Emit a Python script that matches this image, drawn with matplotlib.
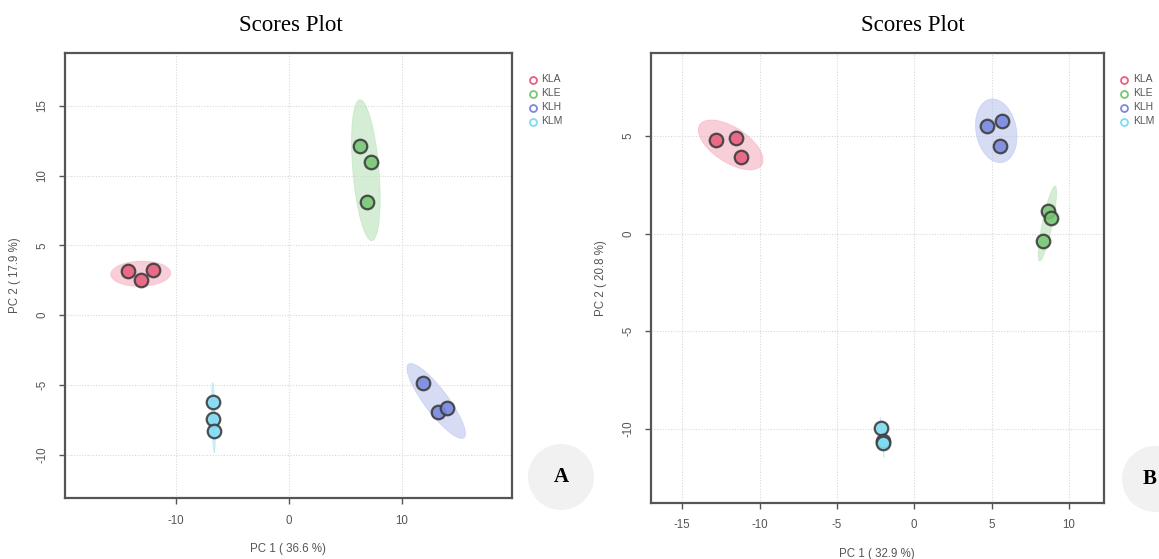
import numpy as np
import matplotlib
matplotlib.use("Agg")
import matplotlib.pyplot as plt
from matplotlib.patches import Ellipse

# Groups and colours
groups = ["KLA", "KLE", "KLH", "KLM"]
point_colors = ["#e9607f", "#78c777", "#7a89df", "#7fdaf2"]
shade_colors = ["#f4a9bb", "#b4dfb3", "#b7c0ee", "#a6e4f2"]

# Panel A scores (PC1, PC2) per group
a_pc1 = {
    "KLA": [-14.27, -13.1, -12.1],
    "KLE": [6.27, 7.3, 6.9],
    "KLH": [11.93, 13.23, 14.03],
    "KLM": [-6.7, -6.77, -6.63],
}
a_pc2 = {
    "KLA": [3.15, 2.55, 3.22],
    "KLE": [12.12, 10.95, 8.11],
    "KLH": [-4.89, -6.92, -6.63],
    "KLM": [-6.25, -7.45, -8.3],
}

# Panel B scores (PC1, PC2) per group
b_pc1 = {
    "KLA": [-12.84, -11.55, -11.22],
    "KLE": [8.66, 8.83, 8.35],
    "KLH": [4.68, 5.70, 5.54],
    "KLM": [-2.12, -2.05, -2.03],
}
b_pc2 = {
    "KLA": [4.80, 4.88, 3.94],
    "KLE": [1.14, 0.78, -0.36],
    "KLH": [5.51, 5.77, 4.51],
    "KLM": [-9.93, -10.61, -10.70],
}

a_xticks = [-10, 0, 10]
a_yticks = [-10, -5, 0, 5, 10, 15]
b_xticks = [-15, -10, -5, 0, 5, 10]
b_yticks = [-10, -5, 0, 5]

a_xlabel = "PC 1 ( 36.6 %)"
a_ylabel = "PC 2 ( 17.9 %)"
b_xlabel = "PC 1 ( 32.9 %)"
b_ylabel = "PC 2 ( 20.8 %)"
title = "Scores Plot"

W, H = 1159, 559
fig = plt.figure(figsize=(W / 100, H / 100), dpi=100)
fig.patch.set_facecolor("white")

SANS = "Liberation Sans"
SERIF = "Liberation Serif"
GRAY = "#555555"
CHI2_95 = 5.991  # chi-square quantile, 2 dof
FS = 8.3


def conf_ellipse(ax, x, y, color):
    """95% confidence ellipse of a group's scores."""
    x = np.asarray(x, float)
    y = np.asarray(y, float)
    cov = np.cov(x, y)
    vals, vecs = np.linalg.eigh(cov)
    order = vals.argsort()[::-1]
    vals, vecs = vals[order], vecs[:, order]
    angle = np.degrees(np.arctan2(vecs[1, 0], vecs[0, 0]))
    w, h = 2 * np.sqrt(CHI2_95 * np.maximum(vals, 0))
    e = Ellipse((x.mean(), y.mean()), w, h, angle=angle,
                facecolor=color, edgecolor=color, lw=0.6, alpha=0.55, zorder=1)
    ax.add_patch(e)


def draw_panel(rect, pc1, pc2, xlim, ylim, xticks, yticks, xlabel, ylabel,
               legend_x, letter, tag_xy, letter_x, title_x):
    ax = fig.add_axes(rect)
    ax.set_xlim(*xlim)
    ax.set_ylim(*ylim)
    ax.set_xticks(xticks)
    ax.set_yticks(yticks)
    ax.set_xticklabels([str(t) for t in xticks], fontsize=FS, color=GRAY,
                       family=SANS)
    ax.set_yticklabels([str(t) for t in yticks], fontsize=FS, color=GRAY,
                       family=SANS, rotation=90, va="center")
    ax.tick_params(direction="out", length=4, width=1, color=GRAY, pad=8)
    for s in ax.spines.values():
        s.set_color(GRAY)
        s.set_linewidth(1.6)
    ax.grid(True, linestyle=(0, (1, 1.5)), color="#d8d8d8", lw=0.8)
    ax.set_axisbelow(True)
    ax.set_xlabel(xlabel, fontsize=FS, color=GRAY, family=SANS, labelpad=12)
    ax.set_ylabel(ylabel, fontsize=FS, color=GRAY, family=SANS, labelpad=11)

    for g, sc in zip(groups, shade_colors):
        conf_ellipse(ax, pc1[g], pc2[g], sc)
    for g, pc in zip(groups, point_colors):
        ax.scatter(pc1[g], pc2[g], s=95, facecolor=pc, edgecolor="#3d3d3d",
                   linewidth=1.6, alpha=0.9, zorder=3)

    # legend: open circles with labels, right of the plot box
    for i, (g, pc) in enumerate(zip(groups, point_colors)):
        ypx = 79.5 + 14 * i
        fig.lines.append(plt.Line2D([legend_x / W], [1 - ypx / H],
                                    transform=fig.transFigure, marker="o",
                                    markersize=5, markerfacecolor="none",
                                    markeredgecolor=pc, markeredgewidth=1.3,
                                    linestyle="none"))
        fig.text((legend_x + 9) / W, 1 - ypx / H, g, fontsize=7.5,
                 color=GRAY, family=SANS, va="center", ha="left")

    # panel tag: grey disc with bold letter
    cx, cy = tag_xy
    fig.patches.append(Ellipse((cx / W, 1 - cy / H), 66 / W, 66 / H,
                               transform=fig.transFigure, facecolor="#f1f1f1",
                               edgecolor="none", zorder=0))
    fig.text(letter_x / W, 1 - cy / H, letter, fontsize=15, fontweight="bold",
             family=SERIF, ha="center", va="center", color="black")

    fig.text(title_x / W, 1 - 31 / H, title, fontsize=16.5, family=SERIF,
             ha="center", va="baseline", color="black")
    return ax


ax_a = draw_panel([64.7 / W, 1 - 498 / H, (511.9 - 64.7) / W, (498 - 53.3) / H],
                  a_pc1, a_pc2, (-19.9, 19.78), (-13.1, 18.77),
                  a_xticks, a_yticks, a_xlabel, a_ylabel,
                  532.6, "A", (561, 477), 561, 291)
ax_b = draw_panel([650.9 / W, 1 - 502.7 / H, (1103.6 - 650.9) / W, (502.7 - 52.7) / H],
                  b_pc1, b_pc2, (-17.03, 12.25), (-13.77, 9.26),
                  b_xticks, b_yticks, b_xlabel, b_ylabel,
                  1124.3, "B", (1155, 479), 1150, 913)

fig.savefig("out.png", dpi=100, facecolor="white")
